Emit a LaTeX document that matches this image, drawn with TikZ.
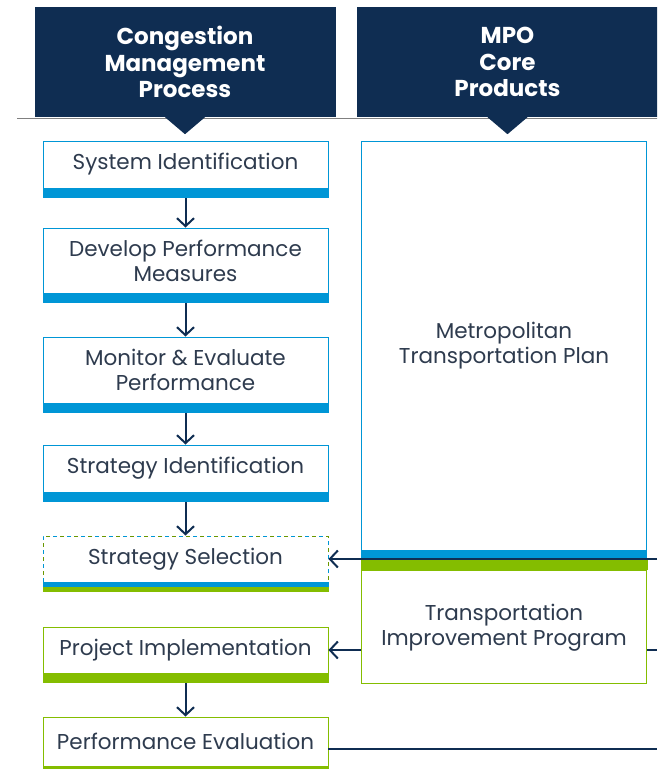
\documentclass[tikz,border=0pt]{standalone}
\usepackage{fontspec}
\setmainfont{Poppins}
\usepackage{tikz}
\usetikzlibrary{arrows.meta, positioning}
\definecolor{mponavy}{HTML}{0F2D52}
\definecolor{mpoblue}{HTML}{0096D6}
\definecolor{mpogreen}{HTML}{84BD00}
\definecolor{mpotext}{HTML}{2E3B4E}
\definecolor{mpogray}{HTML}{808080}

\begin{document}
\begin{tikzpicture} [x=1pt, y=-1pt, node distance=0pt, font=\fontsize{21.5}{25}\selectfont,
	hdr/.style={fill=mponavy, text=white, minimum width=301pt, minimum height=110pt, inner sep=0pt, align=center,
	font=\bfseries\fontsize{23}{26.5}\selectfont},
	cmpbox/.style={draw=mpoblue, line width=0.9pt, fill=white, minimum width=285pt, minimum height=#1, inner sep=0pt,
	align=center, text=mpotext},
	tipbox/.style={cmpbox=#1, draw=mpogreen},
	bluebar/.style={fill=mpoblue, minimum width=286pt, minimum height=#1, inner sep=0pt, outer sep=0pt},
	greenbar/.style={bluebar=#1, fill=mpogreen},
	arr/.style={-{Straight Barb[length=8pt, width=17pt]}, line width=2pt, mponavy}]
			% Page frame
			\useasboundingbox (0,0) rectangle (657,769);
			\clip (0,0) rectangle (657,769);
			% Headers
			\draw [mpogray, line width=1pt] (17,118.5) -- (660,118.5);
			\node (hcmp) [hdr] at (185,62) {Congestion\\Management\\Process};
			\node (hmpo) [hdr] at (507.5,62) {MPO\\Core\\Products};
			\fill [mponavy] ([xshift=-20pt]hcmp.south) -- ([xshift=20pt]hcmp.south) -- ([yshift=-17pt]hcmp.south) -- cycle;
			\fill [mponavy] ([xshift=-20pt]hmpo.south) -- ([xshift=20pt]hmpo.south) -- ([yshift=-17pt]hmpo.south) -- cycle;
			% Congestion Management Process steps
			\node (sysid) [cmpbox=47pt] at (185.5,164.5) {System Identification};
			\node (sysidb) [bluebar=10pt, below=of sysid] {};
			\node (perfm) [cmpbox=65pt] at (185.5,260.5) {Develop Performance\\Measures};
			\node (perfmb) [bluebar=10pt, below=of perfm] {};
			\node (monev) [cmpbox=66pt] at (185.5,370) {Monitor \& Evaluate\\Performance};
			\node (monevb) [bluebar=9.5pt, below=of monev] {};
			\node (strid) [cmpbox=47pt] at (185.5,468.5) {Strategy Identification};
			\node (stridb) [bluebar=9.5pt, below=of strid] {};
			\node (strsel) [cmpbox=46pt, draw=mpoblue, dash pattern=on 4pt off 10pt,
			postaction={draw=mpogreen!80!black, dash pattern=on 4pt off 10pt, dash phase=7pt}] at (185.5,559) {Strategy Selection};
			\node (strselb) [bluebar=5pt, below=of strsel] {};
			\node (strselg) [greenbar=5pt, below=of strselb] {};
			\node (prjim) [tipbox=46pt] at (185.5,650) {Project Implementation};
			\node (prjimg) [greenbar=10pt, below=of prjim] {};
			\node (pfeval) [tipbox=49pt] at (185.5,741.5) {Performance Evaluation};
			\node (pfevalg) [greenbar=11pt, below=of pfeval] {};
			% MPO core products
			\node (mtp) [cmpbox=409pt] at (504,345.5) {Metropolitan\\Transportation Plan};
			\node (mtpb) [bluebar=9.5pt, below=of mtp] {};
			\node (tipg) [greenbar=10.5pt, below=of mtpb] {};
			\node (tip) [tipbox=113pt, below=of tipg] {Transportation\\Improvement Program};
			\draw [mpogreen, line width=0.9pt] (tipg.north west) -- (tipg.south west) (tipg.north east) -- (tipg.south east);
			% Draw Arrows/Connections
			\coordinate (edgea) at (657,559);
			\coordinate (edgeb) at (657,650);
			\coordinate (edgec) at (657,749);
			\draw [arr] (sysidb.south) -- (perfm.north);
			\draw [arr] (perfmb.south) -- (monev.north);
			\draw [arr] (monevb.south) -- (strid.north);
			\draw [arr] (stridb.south) -- (strsel.north);
			\draw [arr] (prjimg.south) -- (pfeval.north);
			\draw [arr] (edgea) -- (strsel.east);
			\draw [arr] (tip.west |- prjim.east) -- (prjim.east);
			\draw [line width=2pt, mponavy] (tip.east |- prjim.east) -- (edgeb);
			\draw [line width=2pt, mponavy] (pfeval.east |- edgec) -- (edgec);
		\end{tikzpicture}
\end{document}
